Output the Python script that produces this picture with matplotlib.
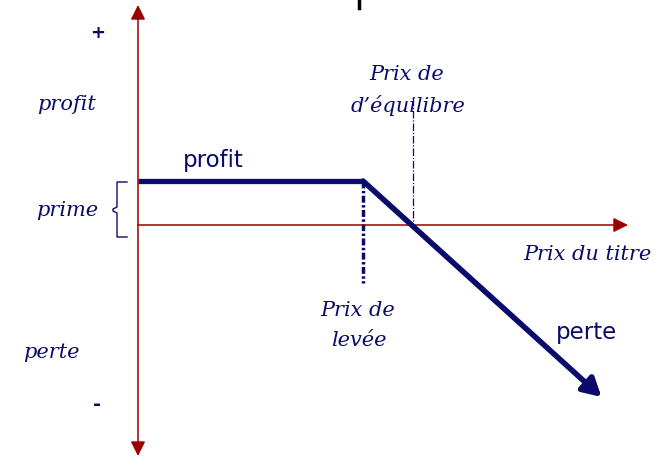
import matplotlib
matplotlib.use("Agg")
import matplotlib.pyplot as plt

# payoff of the position (price units / profit units)
strike = 50
premium = 11
breakeven = 61
prices = [0, 50, 103]
payoff = [11, 11, -43]

navy = "#0b0b6b"
red = "#990000"

# pixel -> data mapping (origin of the chart at pixel 138, 225)
SX, SY = 4.5, 4.0
OX, OY = 138, 225


def X(px):
    return (px - OX) / SX


def Y(py):
    return (OY - py) / SY


fig = plt.figure(figsize=(6.69, 4.57), dpi=100)
ax = fig.add_axes([0, 0, 1, 1])
ax.set_xlim(X(0), X(669))
ax.set_ylim(Y(457), Y(0))
ax.axis("off")

# axes with arrows
ax.annotate("", xy=(0, Y(5)), xytext=(0, Y(456)),
            arrowprops=dict(arrowstyle="<|-|>,head_length=0.4,head_width=0.2",
                            color=red, lw=1.1,
                            mutation_scale=22, shrinkA=0, shrinkB=0))
ax.annotate("", xy=(X(628), 0), xytext=(0, 0),
            arrowprops=dict(arrowstyle="-|>,head_length=0.4,head_width=0.2",
                            color=red, lw=1.1,
                            mutation_scale=22, shrinkA=0, shrinkB=0))

# payoff line
ax.plot(prices[:2], payoff[:2], color=navy, lw=3.8, solid_capstyle="butt")
ax.annotate("", xy=(prices[2], payoff[2]), xytext=(prices[1], payoff[1]),
            arrowprops=dict(arrowstyle="-|>,head_length=0.45,head_width=0.25",
                            color=navy, lw=4.0,
                            mutation_scale=24, shrinkA=0, shrinkB=0))

# strike and break-even markers
ax.plot([strike, strike], [premium, Y(283)], color=navy, lw=2.5,
        ls=(0, (2, 0.7, 0.7, 0.7)))
ax.plot([breakeven, breakeven], [Y(98), 0], color=navy, lw=0.9,
        ls=(0, (6, 1.5, 1, 1.5)))

# brace for the premium
bx = [X(127), X(117), X(117), X(113), X(113), X(117), X(117), X(127)]
by = [Y(182), Y(182), Y(207), Y(209), Y(211), Y(213), Y(237), Y(237)]
ax.plot(bx, by, color=navy, lw=1.0)

# cut-off title fragment at the top
ax.plot([X(359), X(359)], [Y(0), Y(8)], color="black", lw=2.5)

serif = dict(family="DejaVu Serif", style="italic", color=navy,
             ha="center", va="center", fontsize=15)
sans = dict(family="DejaVu Sans", color=navy, ha="center", va="center")

ax.text(X(98), Y(33), "+", fontsize=13, fontweight="bold", **sans)
ax.text(X(97), Y(405), "-", fontsize=14, fontweight="bold", **sans)
ax.text(X(66), Y(104), "profit", **serif)
ax.text(X(67), Y(210), "prime", **serif)
ax.text(X(51), Y(353), "perte", **serif)
ax.text(X(407), Y(75), "Prix de", **serif)
ax.text(X(408), Y(106), "d’équilibre", **serif)
ax.text(X(358), Y(310), "Prix de", **serif)
ax.text(X(359), Y(341), "levée", **serif)
ax.text(X(587), Y(254), "Prix du titre", **serif)
ax.text(X(213), Y(160), "profit", fontsize=16.5, **sans)
ax.text(X(586), Y(332), "perte", fontsize=16.5, **sans)

fig.savefig("out.png", dpi=100)
